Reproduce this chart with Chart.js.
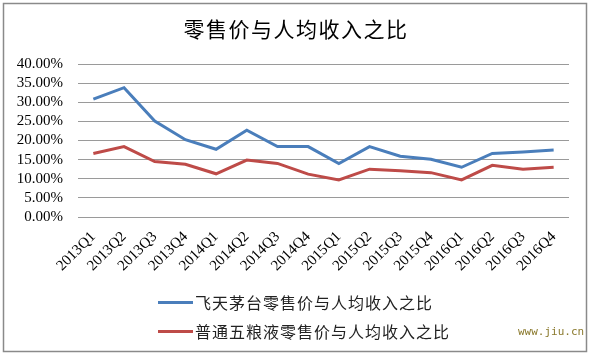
<!DOCTYPE html>
<html>
<head>
<meta charset="utf-8">
<script src="https://cdn.jsdelivr.net/npm/chart.js@4"></script>
<style>
html,body{margin:0;padding:0;background:#fff;}
#wrap{width:596px;height:355px;position:relative;}
</style>
</head>
<body>
<div id="wrap"><canvas id="c" width="596" height="355"></canvas></div>
<script>
const titleText = '零售价与人均收入之比';
const categories = ['2013Q1','2013Q2','2013Q3','2013Q4','2014Q1','2014Q2','2014Q3','2014Q4','2015Q1','2015Q2','2015Q3','2015Q4','2016Q1','2016Q2','2016Q3','2016Q4'];
const seriesNames = ['飞天茅台零售价与人均收入之比','普通五粮液零售价与人均收入之比'];
const moutai = [30.8,33.8,25.1,20.2,17.7,22.7,18.4,18.4,14.0,18.4,15.9,15.1,13.0,16.6,17.0,17.5];
const wuliangye = [16.6,18.4,14.5,13.8,11.3,14.9,14.0,11.2,9.7,12.5,12.1,11.6,9.7,13.5,12.5,13.0];
const yTicks = [0,5,10,15,20,25,30,35,40];
const watermark = 'www.jiu.cn';
const colors = ['#4A7EBB','#BE4B48'];

const decor = {
  id:'decor',
  beforeDraw(chart){
    const ctx = chart.ctx;
    ctx.save();
    ctx.fillStyle = '#fff';
    ctx.fillRect(0,0,chart.width,chart.height);
    ctx.strokeStyle = '#8a8a8a';
    ctx.lineWidth = 1.5;
    ctx.strokeRect(3.5,3.5,583,348);
    ctx.restore();
  },
  afterDraw(chart){
    const ctx = chart.ctx;
    ctx.save();
    ctx.fillStyle = '#000';
    ctx.font = '21px "Noto Sans CJK SC"';
    ctx.textAlign = 'center';
    ctx.textBaseline = 'middle';
    if ('letterSpacing' in ctx) ctx.letterSpacing = '1.5px';
    ctx.fillText(titleText, 296, 29);
    if ('letterSpacing' in ctx) ctx.letterSpacing = '0px';
    const ys = [302.5, 331.5];
    chart.data.datasets.forEach((ds,i)=>{
      ctx.strokeStyle = ds.borderColor;
      ctx.lineWidth = 3;
      ctx.beginPath();
      ctx.moveTo(158, ys[i]);
      ctx.lineTo(193, ys[i]);
      ctx.stroke();
      ctx.fillStyle = '#222';
      ctx.font = '16px "Noto Sans CJK SC"';
      ctx.textAlign = 'left';
      ctx.textBaseline = 'middle';
      if ('letterSpacing' in ctx) ctx.letterSpacing = '1px';
      ctx.fillText(ds.label, 195, ys[i]);
      if ('letterSpacing' in ctx) ctx.letterSpacing = '0px';
    });
    ctx.fillStyle = '#8B7A2E';
    ctx.font = '11px "DejaVu Sans Mono"';
    ctx.textAlign = 'left';
    ctx.textBaseline = 'middle';
    ctx.fillText(watermark, 518, 332);
    ctx.restore();
  }
};

new Chart(document.getElementById('c'), {
  type:'line',
  data:{
    labels:categories,
    datasets:[
      {label:seriesNames[0], data:moutai, borderColor:colors[0], backgroundColor:colors[0], borderWidth:3, pointRadius:0, tension:0, fill:false},
      {label:seriesNames[1], data:wuliangye, borderColor:colors[1], backgroundColor:colors[1], borderWidth:3, pointRadius:0, tension:0, fill:false}
    ]
  },
  options:{
    responsive:false,
    animation:false,
    devicePixelRatio:1,
    layout:{padding:{left:0,right:27,top:64,bottom:0}},
    plugins:{legend:{display:false}, title:{display:false}, tooltip:{enabled:false}},
    scales:{
      x:{
        offset:true,
        grid:{display:false, drawTicks:false},
        border:{display:false},
        ticks:{minRotation:45,maxRotation:45,padding:11,color:'#000',font:{family:'"Liberation Serif"',size:15},autoSkip:false},
        afterFit(scale){ scale.height = 138; }
      },
      y:{
        min:0,max:40,
        afterBuildTicks(scale){ scale.ticks = yTicks.map(v=>({value:v})); },
        grid:{color:'#9a9a9a', lineWidth:1, drawTicks:false},
        border:{display:false},
        ticks:{autoSkip:false,padding:15,color:'#000',font:{family:'"Liberation Serif"',size:15},callback:v=>Number(v).toFixed(2)+'%'},
        afterFit(scale){ scale.width = 78; }
      }
    }
  },
  plugins:[decor]
});
</script>
</body>
</html>
